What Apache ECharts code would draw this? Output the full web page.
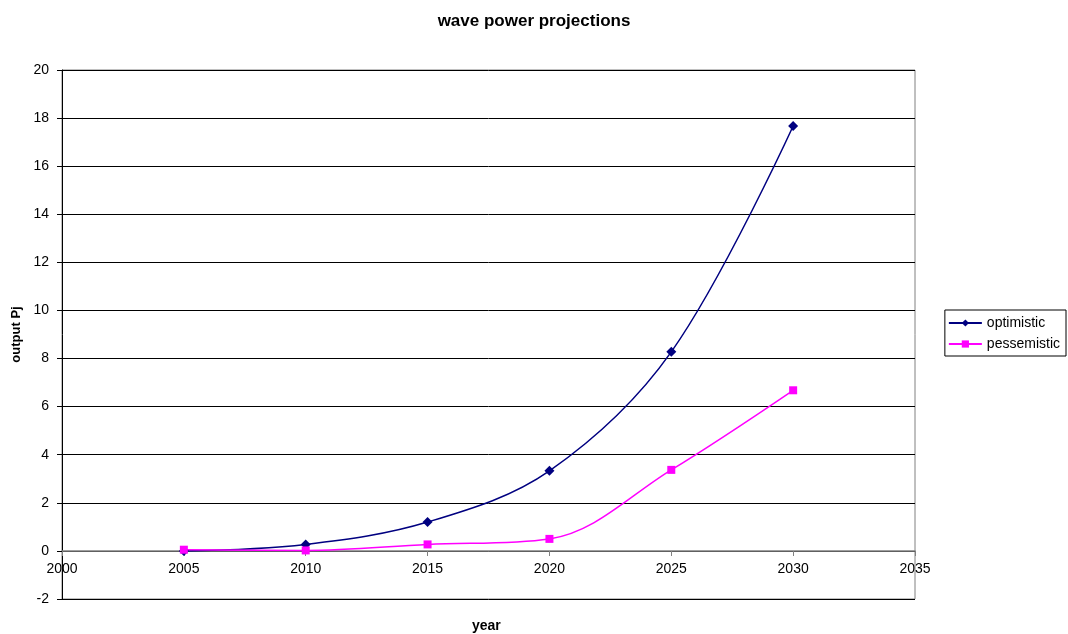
<!DOCTYPE html>
<html>
<head>
<meta charset="utf-8">
<script src="https://cdn.jsdelivr.net/npm/echarts@6/dist/echarts.min.js"></script>
<style>html,body{margin:0;padding:0;background:#fff;}#c{width:1068px;height:634px;}</style>
</head>
<body>
<div id="c"></div>
<script>
const years = [2005, 2010, 2015, 2020, 2025, 2030];
const optimistic = [0, 0.27, 1.2, 3.33, 8.28, 17.67];
const pessimistic = [0.05, 0.02, 0.27, 0.5, 3.37, 6.68];
const seriesNames = ['optimistic', 'pessemistic'];

const chart = echarts.init(document.getElementById('c'));
const font = 'Liberation Sans, Arial, sans-serif';
chart.setOption({
  animation: false,
  backgroundColor: '#fff',
  textStyle: { fontFamily: font },
  title: {
    text: 'wave power projections',
    left: 'center', top: 8,
    textStyle: { fontSize: 17, fontWeight: 'bold', color: '#000', fontFamily: font }
  },
  grid: { left: 62, right: 153, top: 70, bottom: 35, show: true, borderColor: '#808080', borderWidth: 1, backgroundColor: 'transparent' },
  legend: {
    orient: 'vertical', right: 2, top: 310,
    data: seriesNames,
    borderColor: '#000', borderWidth: 1, padding: [6, 6, 5, 3],
    itemGap: 7, itemWidth: 33, itemHeight: 9,
    textStyle: { fontSize: 14, color: '#000', fontFamily: font }
  },
  xAxis: {
    type: 'value', min: 2000, max: 2035, interval: 5,
    offset: -48,
    axisLine: { onZero: false, lineStyle: { color: '#808080', width: 1.5 } },
    axisTick: { show: true, length: 5, lineStyle: { color: '#808080' } },
    axisLabel: { color: '#000', fontSize: 14, margin: 11, fontFamily: font, formatter: v => String(v) },
    splitLine: { show: false }
  },
  yAxis: {
    type: 'value', min: -2, max: 20, interval: 2,
    name: 'output Pj', nameLocation: 'middle', nameGap: 38,
    nameTextStyle: { fontSize: 13, fontWeight: 'bold', color: '#000', fontFamily: font },
    axisLine: { show: true, lineStyle: { color: '#000', width: 1 } },
    axisTick: { show: true, length: 5, lineStyle: { color: '#000' } },
    axisLabel: { color: '#000', fontSize: 14, margin: 13, fontFamily: font, formatter: v => String(v) },
    splitLine: { show: true, lineStyle: { color: '#000', width: 1 } }
  },
  graphic: [{
    type: 'text', left: 472, top: 619,
    style: { text: 'year', fontSize: 14, fontWeight: 'bold', fill: '#000', fontFamily: font }
  }],
  series: [
    {
      name: seriesNames[0], type: 'line', smooth: 0.35,
      data: years.map((y, i) => [y, optimistic[i]]),
      symbol: 'diamond', symbolSize: 10,
      itemStyle: { color: '#000080' },
      lineStyle: { color: '#000080', width: 1.5 }
    },
    {
      name: seriesNames[1], type: 'line', smooth: 0.35,
      data: years.map((y, i) => [y, pessimistic[i]]),
      symbol: 'rect', symbolSize: 8,
      itemStyle: { color: '#FF00FF' },
      lineStyle: { color: '#FF00FF', width: 1.5 }
    }
  ]
});
</script>
</body>
</html>
